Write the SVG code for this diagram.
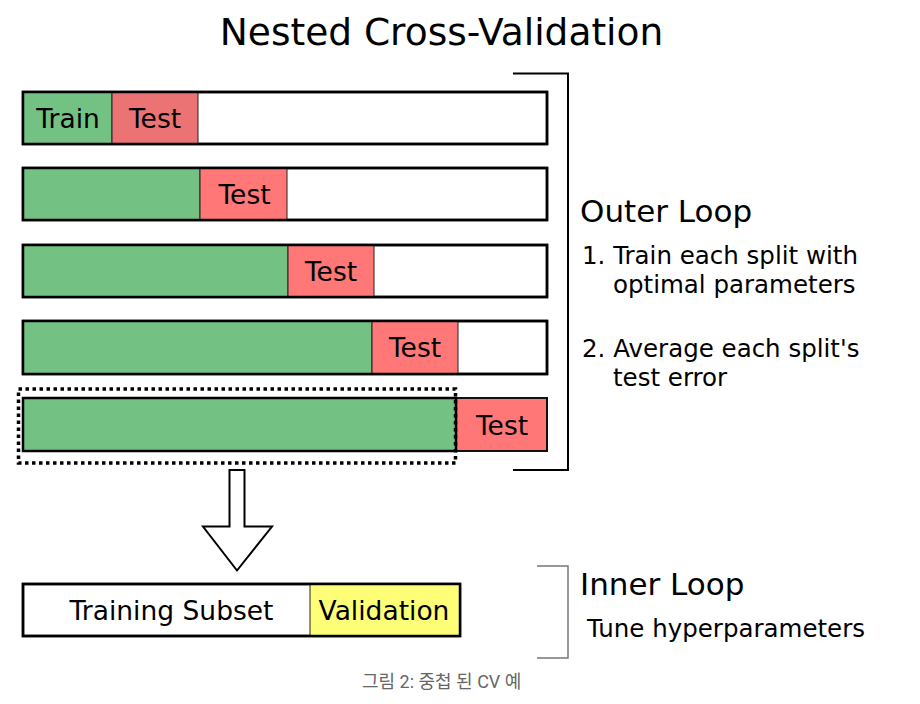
<svg xmlns="http://www.w3.org/2000/svg" width="920" height="704" viewBox="0 0 920 704">
<style>
text{font-family:"DejaVu Sans","Liberation Sans",sans-serif;fill:#000}
.box{stroke:#000;stroke-width:2.5}
.seg{stroke:#222;stroke-width:1}
.tr{fill:#74c184}
.te{fill:#ff7777}
.lbl{font-size:26.5px;text-anchor:middle}
.head{font-size:31px}
.item{font-size:24.5px}
</style>
<rect width="920" height="704" fill="#fff"/>
<text x="441.5" y="45" font-size="37.5" text-anchor="middle">Nested Cross-Validation</text>
<g id="split1">
<rect x="23" y="92" width="524" height="52" fill="#fff" class="box"/>
<rect x="23" y="92" width="89" height="52" class="tr seg"/>
<rect x="112" y="92" width="86" height="52" fill="#ec7373" class="seg"/>
<rect x="23" y="92" width="524" height="52" fill="none" class="box"/>
<text x="68" y="127.5" class="lbl">Train</text>
<text x="155" y="127.5" class="lbl">Test</text>
</g>
<g id="split2">
<rect x="23" y="168" width="524" height="52" fill="#fff" class="box"/>
<rect x="23" y="168" width="177" height="52" class="tr seg"/>
<rect x="200" y="168" width="87" height="52" class="te seg"/>
<rect x="23" y="168" width="524" height="52" fill="none" class="box"/>
<text x="244.5" y="203.5" class="lbl">Test</text>
</g>
<g id="split3">
<rect x="23" y="245" width="524" height="52" fill="#fff" class="box"/>
<rect x="23" y="245" width="265" height="52" class="tr seg"/>
<rect x="288" y="245" width="86" height="52" class="te seg"/>
<rect x="23" y="245" width="524" height="52" fill="none" class="box"/>
<text x="331" y="280.5" class="lbl">Test</text>
</g>
<g id="split4">
<rect x="23" y="321" width="524" height="53" fill="#fff" class="box"/>
<rect x="23" y="321" width="349" height="53" class="tr seg"/>
<rect x="372" y="321" width="86" height="53" class="te seg"/>
<rect x="23" y="321" width="524" height="53" fill="none" class="box"/>
<text x="415" y="357" class="lbl">Test</text>
</g>
<g id="split5">
<rect x="456" y="398" width="91" height="53" class="te" stroke="#111" stroke-width="2"/>
<rect x="23" y="398" width="433" height="53" class="tr box"/>
<text x="502" y="434.5" class="lbl">Test</text>
<rect x="18.5" y="389" width="437" height="74" fill="none" stroke="#000" stroke-width="3.5" stroke-dasharray="3.5,3.5"/>
</g>
<g id="outer-loop">
<path d="M513 73.5H568V470H513" fill="none" stroke="#000" stroke-width="2"/>
<text x="580" y="222" class="head">Outer Loop</text>
<text x="582" y="264" class="item">1. Train each split with</text>
<text x="613" y="293" class="item">optimal parameters</text>
<text x="582" y="357" class="item">2. Average each split's</text>
<text x="613" y="386" class="item">test error</text>
</g>
<g id="connectors">
<path d="M229.5 470H244.5V526.5H272L237 570.5L203 526.5H229.5Z" fill="#fff" stroke="#000" stroke-width="2" stroke-linejoin="miter"/>
</g>
<g id="inner-split">
<rect x="23" y="584" width="437" height="52" fill="#fff" class="box"/>
<rect x="310" y="584" width="150" height="52" fill="#ffff77" class="seg"/>
<rect x="23" y="584" width="437" height="52" fill="none" class="box"/>
<text x="171.5" y="620" class="lbl" font-size="28">Training Subset</text>
<text x="384" y="620" class="lbl" font-size="28.5">Validation</text>
</g>
<g id="inner-loop">
<path d="M537 566H568V658H537" fill="none" stroke="#777" stroke-width="1.5"/>
<text x="580" y="595" class="head">Inner Loop</text>
<text x="587" y="637" class="item">Tune hyperparameters</text>
</g>
<text x="362" y="688" font-size="18" fill="#666" style="font-family:Roboto,'Noto Sans CJK KR',sans-serif;fill:#666">그림 2: 중첩 된 CV 예</text>
</svg>
